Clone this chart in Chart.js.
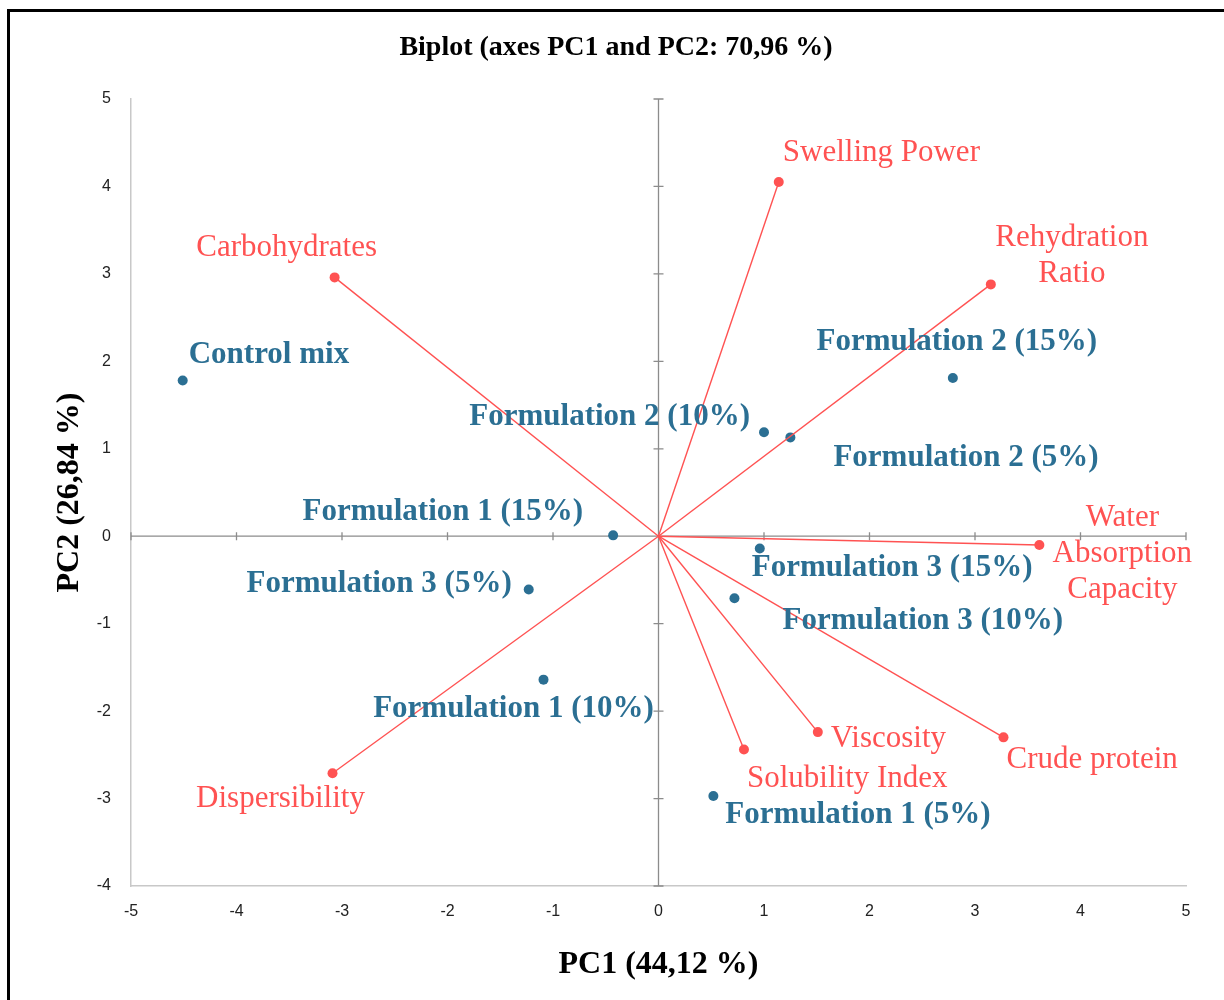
<!DOCTYPE html>
<html lang="en">
<head>
    <meta charset="UTF-8">
    <title>Biplot PC1 / PC2</title>
    <script src="https://cdn.jsdelivr.net/npm/chart.js"></script>
    <style>
        body {
            margin: 0;
            background: #ffffff;
            overflow: hidden;
        }

        .frame {
            position: absolute;
            left: 7px;
            top: 9px;
            width: 1240px;
            height: 1010px;
            border-left: 3px solid #000;
            border-top: 3px solid #000;
        }

        .chart-container {
            position: absolute;
            left: 0;
            top: 0;
            width: 1224px;
            height: 1000px;
        }
    </style>
</head>
<body>
    <div class="frame"></div>
    <div class="chart-container">
        <canvas id="biplot" width="1224" height="1000"></canvas>
    </div>

    <script>
        // Variables (red vectors)
        const varNames = ['Swelling Power', 'Rehydration Ratio', 'Carbohydrates', 'Water Absorption Capacity',
            'Crude protein', 'Viscosity', 'Solubility Index', 'Dispersibility'];
        const varX = [1.14, 3.15, -3.07, 3.61, 3.27, 1.51, 0.81, -3.09];
        const varY = [4.05, 2.88, 2.96, -0.10, -2.30, -2.24, -2.44, -2.71];

        // Observations (blue points)
        const obsNames = ['Control mix', 'Formulation 2 (15%)', 'Formulation 2 (10%)', 'Formulation 2 (5%)',
            'Formulation 1 (15%)', 'Formulation 3 (15%)', 'Formulation 3 (5%)', 'Formulation 3 (10%)',
            'Formulation 1 (10%)', 'Formulation 1 (5%)'];
        const obsX = [-4.51, 2.79, 1.00, 1.25, -0.43, 0.96, -1.23, 0.72, -1.09, 0.52];
        const obsY = [1.78, 1.81, 1.19, 1.13, 0.01, -0.14, -0.61, -0.71, -1.64, -2.97];

        const xTicks = [-5, -4, -3, -2, -1, 0, 1, 2, 3, 4, 5];
        const yTicks = [-4, -3, -2, -1, 0, 1, 2, 3, 4, 5];

        const red = '#FF5252';
        const blue = '#2B6F93';
        const serif = '"Liberation Serif", "Times New Roman", serif';

        // label placement relative to each point: [lines, dx, dy, align]
        const varLabels = [
            [['Swelling Power'], 4, -31, 'left'],
            [['Rehydration', 'Ratio'], 81, -49, 'center'],
            [['Carbohydrates'], -48, -32, 'center'],
            [['Water', 'Absorption', 'Capacity'], 83, -29, 'center'],
            [['Crude protein'], 3, 21, 'left'],
            [['Viscosity'], 13, 5, 'left'],
            [['Solubility Index'], 3, 27, 'left'],
            [['Dispersibility'], -52, 24, 'center']
        ];
        const obsLabels = [
            [6, -28, 'left'],
            [4, -38, 'center'],
            [-14, -17, 'right'],
            [43, 19, 'left'],
            [-30, -25, 'right'],
            [-8, 18, 'left'],
            [-17, -8, 'right'],
            [48, 21, 'left'],
            [-30, 27, 'center'],
            [12, 17, 'left']
        ];

        const datasets = [];
        varNames.forEach((name, i) => {
            datasets.push({
                type: 'line',
                label: name,
                data: [{ x: 0, y: 0 }, { x: varX[i], y: varY[i] }],
                borderColor: red,
                borderWidth: 1.4,
                pointRadius: [0, 5],
                pointBackgroundColor: red,
                pointBorderWidth: 0,
                fill: false
            });
        });
        datasets.push({
            type: 'scatter',
            label: 'Observations',
            data: obsX.map((x, i) => ({ x: x, y: obsY[i] })),
            pointRadius: 5,
            pointBackgroundColor: blue,
            pointBorderWidth: 0
        });

        // axes through the origin, with crossing tick marks
        const originAxes = {
            id: 'originAxes',
            beforeDatasetsDraw(chart) {
                const { ctx, scales: { x, y } } = chart;
                const x0 = x.getPixelForValue(0);
                const y0 = y.getPixelForValue(0);
                ctx.save();
                ctx.strokeStyle = '#8C8C8C';
                ctx.lineWidth = 1.3;
                ctx.beginPath();
                ctx.moveTo(x.left, y0);
                ctx.lineTo(x.right, y0);
                ctx.moveTo(x0, y.top);
                ctx.lineTo(x0, y.bottom);
                xTicks.forEach(t => {
                    const px = x.getPixelForValue(t);
                    ctx.moveTo(px, y0 - 4);
                    ctx.lineTo(px, y0 + 4);
                });
                yTicks.forEach(t => {
                    const py = y.getPixelForValue(t);
                    ctx.moveTo(x0 - 5, py);
                    ctx.lineTo(x0 + 5, py);
                });
                ctx.stroke();
                ctx.restore();
            }
        };

        const pointLabels = {
            id: 'pointLabels',
            afterDatasetsDraw(chart) {
                const { ctx, scales: { x, y } } = chart;
                ctx.save();
                ctx.textBaseline = 'middle';

                // chart title
                ctx.font = 'bold 28px ' + serif;
                ctx.fillStyle = '#000';
                ctx.textAlign = 'center';
                ctx.fillText('Biplot (axes PC1 and PC2: 70,96 %)', 616, 48);

                ctx.font = '31px ' + serif;
                ctx.fillStyle = red;
                varLabels.forEach((lab, i) => {
                    const px = x.getPixelForValue(varX[i]);
                    const py = y.getPixelForValue(varY[i]);
                    ctx.textAlign = lab[3];
                    lab[0].forEach((line, k) => {
                        ctx.fillText(line, px + lab[1], py + lab[2] + 2 + k * 36);
                    });
                });
                ctx.font = 'bold 31px ' + serif;
                ctx.fillStyle = blue;
                obsLabels.forEach((lab, i) => {
                    const px = x.getPixelForValue(obsX[i]);
                    const py = y.getPixelForValue(obsY[i]);
                    ctx.textAlign = lab[2];
                    ctx.fillText(obsNames[i], px + lab[0], py + lab[1] + 2);
                });
                ctx.restore();
            }
        };

        const ctx = document.getElementById('biplot').getContext('2d');
        new Chart(ctx, {
            type: 'scatter',
            data: { datasets: datasets },
            options: {
                responsive: false,
                animation: false,
                layout: {
                    padding: { left: 8, right: 38, top: 99, bottom: 0 }
                },
                plugins: {
                    legend: { display: false },
                    tooltip: { enabled: false },
                    title: { display: false }
                },
                scales: {
                    x: {
                        type: 'linear',
                        min: -5,
                        max: 5,
                        afterFit(scale) { scale.height = 114; },
                        afterBuildTicks(scale) { scale.ticks = xTicks.map(v => ({ value: v })); },
                        grid: { display: false, drawTicks: false },
                        border: { display: true, color: '#C8C8C8', width: 1.5 },
                        ticks: {
                            color: '#222',
                            padding: 16,
                            font: { family: '"Liberation Sans", sans-serif', size: 16 }
                        },
                        title: {
                            display: true,
                            text: 'PC1 (44,12 %)',
                            color: '#000',
                            font: { family: serif, size: 32, weight: 'bold' },
                            padding: { top: 20, bottom: 16 }
                        }
                    },
                    y: {
                        type: 'linear',
                        min: -4,
                        max: 5,
                        afterFit(scale) { scale.width = 123; },
                        afterBuildTicks(scale) { scale.ticks = yTicks.map(v => ({ value: v })); },
                        grid: { display: false, drawTicks: false },
                        border: { display: true, color: '#C8C8C8', width: 1.5 },
                        ticks: {
                            color: '#222',
                            padding: 20,
                            font: { family: '"Liberation Sans", sans-serif', size: 16 }
                        },
                        title: {
                            display: true,
                            text: 'PC2 (26,84 %)',
                            color: '#000',
                            font: { family: serif, size: 32, weight: 'bold' },
                            padding: { top: 43, bottom: 0 }
                        }
                    }
                }
            },
            plugins: [originAxes, pointLabels]
        });
    </script>
</body>
</html>
